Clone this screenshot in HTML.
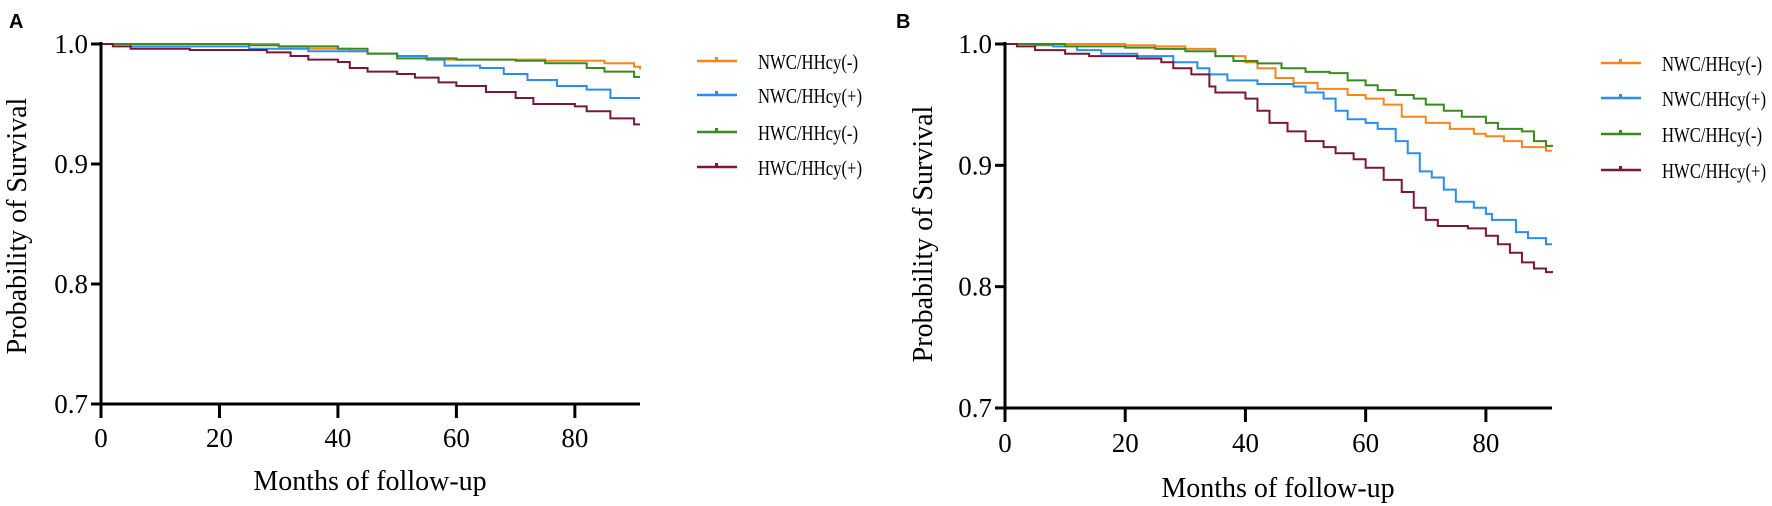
<!DOCTYPE html>
<html><head><meta charset="utf-8"><style>
html,body{margin:0;padding:0;background:#fff;}
svg{display:block;font-family:"Liberation Serif",serif;}
</style></head><body>
<svg id="chart" width="1772" height="506" viewBox="0 0 1772 506" xmlns="http://www.w3.org/2000/svg"></svg>
<script>
const seriesNames = ["NWC/HHcy(-)","NWC/HHcy(+)","HWC/HHcy(-)","HWC/HHcy(+)"];
const seriesColors = ["#f8861b","#2a8df0","#3b8a1f","#7d1638"];
const xTicks = [0,20,40,60,80];
const yTicks = [0.7,0.8,0.9,1.0];
const yTickLabels = ["0.7","0.8","0.9","1.0"];
// Panel A
const aNWCneg_t = [0,30,35,42,45,50,55,75,85,90,91];
const aNWCneg_v = [1.0,0.998,0.996,0.994,0.992,0.99,0.987,0.986,0.984,0.981,0.979];
const aNWCpos_t = [0,5,25,35,45,50,55,58,64,68,72,77,82,86,91];
const aNWCpos_v = [1.0,0.998,0.996,0.994,0.992,0.99,0.987,0.982,0.98,0.975,0.97,0.965,0.962,0.955,0.955];
const aHWCneg_t = [0,25,30,40,45,50,60,70,75,82,85,90,91];
const aHWCneg_v = [1.0,0.999,0.998,0.996,0.992,0.988,0.987,0.986,0.984,0.98,0.977,0.9725,0.9725];
const aHWCpos_t = [0,2,5,15,28,32,35,40,42,45,50,53,57,60,65,70,73,80,82,86,90,91];
const aHWCpos_v = [1.0,0.998,0.996,0.995,0.993,0.99,0.987,0.985,0.98,0.977,0.975,0.972,0.968,0.965,0.96,0.955,0.95,0.948,0.944,0.938,0.933,0.933];
// Panel B
const bNWCneg_t = [0,20,25,30,35,40,42,45,48,52,57,60,63,66,70,74,78,80,83,86,90,91];
const bNWCneg_v = [1.0,0.999,0.998,0.996,0.99,0.985,0.98,0.972,0.968,0.963,0.958,0.955,0.95,0.94,0.935,0.93,0.926,0.924,0.92,0.915,0.912,0.912];
const bNWCpos_t = [0,5,8,12,16,22,28,32,34,37,42,48,50,53,55,57,60,62,65,67,69,71,73,75,78,80,81,85,87,90,91];
const bNWCpos_v = [1.0,0.999,0.998,0.995,0.992,0.99,0.985,0.98,0.975,0.97,0.967,0.965,0.96,0.955,0.945,0.938,0.935,0.93,0.92,0.91,0.895,0.89,0.88,0.87,0.865,0.86,0.855,0.845,0.84,0.835,0.835];
const bHWCneg_t = [0,10,20,25,30,35,38,42,46,50,54,57,60,62,65,68,70,73,76,80,82,86,88,90,91];
const bHWCneg_v = [1.0,0.998,0.997,0.996,0.994,0.99,0.986,0.984,0.98,0.977,0.976,0.97,0.966,0.962,0.958,0.955,0.95,0.945,0.94,0.935,0.93,0.928,0.92,0.916,0.917];
const bHWCpos_t = [0,2,5,10,14,22,26,28,31,34,35,40,42,44,47,50,53,55,58,60,63,66,68,70,72,77,80,82,84,86,88,90,91];
const bHWCpos_v = [1.0,0.998,0.995,0.992,0.99,0.988,0.985,0.98,0.975,0.965,0.96,0.955,0.945,0.935,0.928,0.92,0.915,0.91,0.905,0.898,0.888,0.878,0.865,0.855,0.85,0.848,0.842,0.835,0.828,0.82,0.815,0.812,0.813];

const NS="http://www.w3.org/2000/svg";
const svg=document.getElementById('chart');
function mk(tag,attrs,parent){const e=document.createElementNS(NS,tag);for(const k in attrs)e.setAttribute(k,attrs[k]);(parent||svg).appendChild(e);return e;}

function panel(cfg){
  const g=mk('g',{});
  
  
  const xS=t=>cfg.x0+(t/91)*(cfg.x1-cfg.x0);
  const yS=v=>cfg.y0+(1.0-v)/0.3*(cfg.yB-cfg.y0);
  const lab=mk('text',{x:cfg.labX,y:28,'font-family':'Liberation Sans, sans-serif','font-weight':'bold','font-size':20},g);
  lab.textContent=cfg.letter;
  
  
  cfg.series.forEach((s,i)=>{
    let d='M'+xS(s.t[0])+','+yS(s.v[0]);
    for(let k=1;k<s.t.length;k++){d+=' H'+xS(s.t[k])+' V'+yS(s.v[k]);}
    const p=mk('path',{d:d,fill:'none',stroke:seriesColors[i],'stroke-width':2},g);
    
    
  });
  const ax=mk('path',{d:'M'+cfg.x0+','+(cfg.y0-2)+' V'+cfg.yB+' H'+cfg.x1,fill:'none',stroke:'#000','stroke-width':3},g);
  
  
  xTicks.forEach(t=>{
    const l=mk('line',{x1:xS(t),x2:xS(t),y1:cfg.yB,y2:cfg.yB+14,stroke:'#000','stroke-width':3},g);
    
    
    const tx=mk('text',{x:xS(t),y:cfg.xlY,'text-anchor':'middle','font-size':27},g);
    tx.textContent=t;
    
    
  });
  yTicks.forEach((v,i)=>{
    const l=mk('line',{x1:cfg.x0-10,x2:cfg.x0,y1:yS(v),y2:yS(v),stroke:'#000','stroke-width':3},g);
    
    
    const tx=mk('text',{x:cfg.x0-13,y:yS(v)+9,'text-anchor':'end','font-size':27},g);
    tx.textContent=yTickLabels[i];
    
    
  });
  const xt=mk('text',{x:cfg.xtX,y:cfg.xtY,'text-anchor':'middle','font-size':28,'xml:space':'preserve'},g);
  xt.textContent=cfg.xTitle;
  
  
  const yt=mk('text',{x:0,y:0,'text-anchor':'middle','font-size':28,transform:'translate('+cfg.ytX+','+cfg.ytY+') rotate(-90)'},g);
  yt.textContent='Probability of Survival';
  
  
  seriesNames.forEach((n,i)=>{
    const y=cfg.legY[i];
    const lg=mk('g',{},g);
    
    
    mk('line',{x1:cfg.legX,x2:cfg.legX+40,y1:y,y2:y,stroke:seriesColors[i],'stroke-width':2.5},lg);
    mk('rect',{x:cfg.legX+18,y:y-4,width:3,height:4,fill:seriesColors[i]},lg);
    const tx=mk('text',{x:cfg.legX+61,y:y+8,'font-size':21,textLength:(n.indexOf('+')>=0?104:100),lengthAdjust:'spacingAndGlyphs'},lg);
    tx.textContent=n;
  });
}

panel({id:'panel-a',letter:'A',labX:9,x0:101,x1:640,y0:44,yB:404,xlY:447,
  xTitle:'Months of  follow-up',xtX:370,xtY:490,ytX:26,ytY:226,legX:697,legY:[61,95,132,167],
  series:[{t:aNWCneg_t,v:aNWCneg_v},{t:aNWCpos_t,v:aNWCpos_v},{t:aHWCneg_t,v:aHWCneg_v},{t:aHWCpos_t,v:aHWCpos_v}]});
panel({id:'panel-b',letter:'B',labX:896,x0:1005,x1:1552,y0:44,yB:408,xlY:452,
  xTitle:'Months of follow-up',xtX:1278,xtY:497,ytX:932,ytY:234,legX:1601,legY:[63,98,134,170],
  series:[{t:bNWCneg_t,v:bNWCneg_v},{t:bNWCpos_t,v:bNWCpos_v},{t:bHWCneg_t,v:bHWCneg_v},{t:bHWCpos_t,v:bHWCpos_v}]});
</script>
</body></html>
